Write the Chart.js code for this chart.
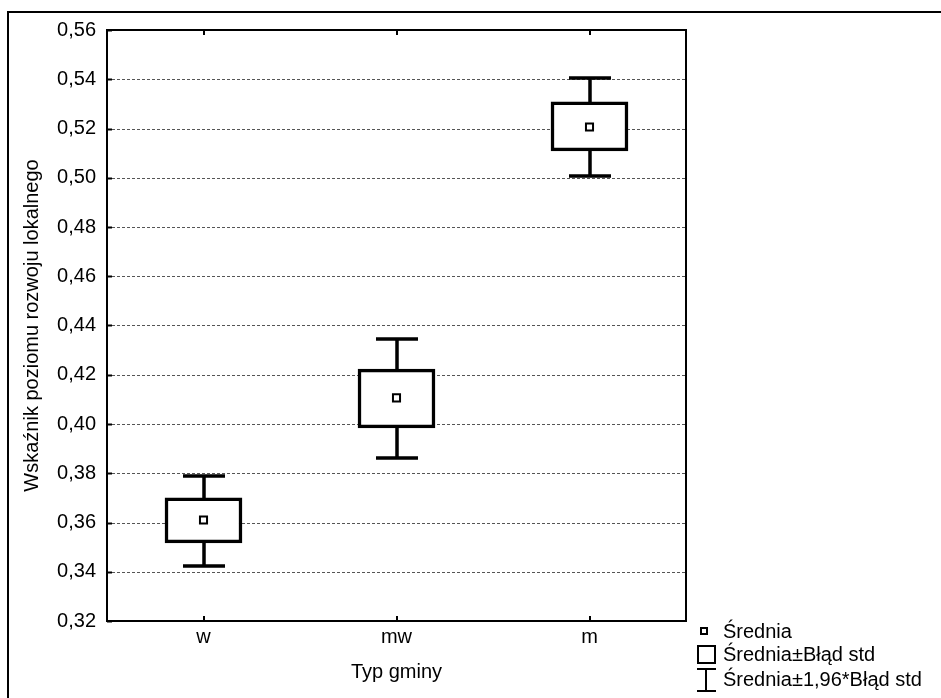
<!DOCTYPE html>
<html>
<head>
<meta charset="utf-8">
<script src="https://cdn.jsdelivr.net/npm/chart.js@4"></script>
<style>
  html, body { margin: 0; padding: 0; background: #fff; }
  #wrap { position: relative; width: 941px; height: 698px; font-family: "Liberation Sans", Arial, sans-serif; }
  .lg { position: absolute; left: 723px; font-size: 20px; color: #000; line-height: 24px; white-space: nowrap; }
  .sym { position: absolute; box-sizing: border-box; }
</style>
</head>
<body>
<div id="wrap">
  <canvas id="c" width="941" height="698"></canvas>
  <!-- legend -->
  <div class="sym" style="left:700px;top:627px;width:8px;height:8px;border:2px solid #000"></div>
  <div class="lg" style="top:619px">Średnia</div>
  <div class="sym" style="left:697px;top:645px;width:19px;height:19px;border:2px solid #000"></div>
  <div class="lg" style="top:642px">Średnia±Błąd std</div>
  <div class="sym" style="left:697px;top:668px;width:19px;height:2px;background:#000"></div>
  <div class="sym" style="left:705px;top:668px;width:2px;height:24px;background:#000"></div>
  <div class="sym" style="left:697px;top:690px;width:19px;height:2px;background:#000"></div>
  <div class="lg" style="top:667px">Średnia±1,96*Błąd std</div>
</div>
<script>
// categories and values
const categories = ['w', 'mw', 'm'];
const means  = [0.361, 0.4106, 0.5206];
const seLow  = [0.3517, 0.3984, 0.5109];
const seHigh = [0.3700, 0.4223, 0.5308];
const ciLow  = [0.3423, 0.3862, 0.5007];
const ciHigh = [0.3789, 0.4345, 0.5405];

const FONT = '"Liberation Sans", Arial, sans-serif';
const fmtTick = v => v.toFixed(2).replace('.', ',');

// frame, dashed grid and inward ticks
const framePlugin = {
  id: 'frame',
  beforeDatasetsDraw(chart) {
    const { ctx, chartArea: a, scales } = chart;
    ctx.save();
    ctx.strokeStyle = '#555'; ctx.lineWidth = 1; ctx.setLineDash([3, 2]);
    scales.y.ticks.forEach(t => {
      if (t.value <= scales.y.min + 1e-9 || t.value >= scales.y.max - 1e-9) return;
      const y = Math.round(scales.y.getPixelForValue(t.value)) + 0.5;
      ctx.beginPath(); ctx.moveTo(a.left, y); ctx.lineTo(a.right, y); ctx.stroke();
    });
    ctx.setLineDash([]);
    ctx.strokeStyle = '#000'; ctx.lineWidth = 2;
    scales.y.ticks.forEach(t => {
      const y = Math.round(scales.y.getPixelForValue(t.value)) + 0.5;
      ctx.beginPath(); ctx.moveTo(a.left, y); ctx.lineTo(a.left + 5, y); ctx.stroke();
    });
    categories.forEach((c, i) => {
      const x = Math.round(scales.x.getPixelForValue(i));
      ctx.beginPath(); ctx.moveTo(x, a.top); ctx.lineTo(x, a.top + 5); ctx.stroke();
      ctx.beginPath(); ctx.moveTo(x, a.bottom); ctx.lineTo(x, a.bottom - 5); ctx.stroke();
    });
    ctx.strokeRect(a.left, a.top, a.right - a.left, a.bottom - a.top);
    // outer picture border
    ctx.beginPath(); ctx.moveTo(8, 698); ctx.lineTo(8, 12); ctx.lineTo(941, 12); ctx.stroke();
    ctx.restore();
  },
  afterDatasetsDraw(chart) {
    // whiskers: mean ± 1.96*SE
    const { ctx, scales } = chart;
    ctx.save();
    ctx.strokeStyle = '#000'; ctx.lineWidth = 3.5;
    categories.forEach((c, i) => {
      const x = Math.round(scales.x.getPixelForValue(i));
      const yb = scales.y.getPixelForValue(seHigh[i]);
      const ya = scales.y.getPixelForValue(ciHigh[i]);
      const yc = scales.y.getPixelForValue(seLow[i]);
      const yd = scales.y.getPixelForValue(ciLow[i]);
      ctx.beginPath();
      ctx.moveTo(x, yb); ctx.lineTo(x, ya);
      ctx.moveTo(x - 21, ya); ctx.lineTo(x + 21, ya);
      ctx.moveTo(x, yc); ctx.lineTo(x, yd);
      ctx.moveTo(x - 21, yd); ctx.lineTo(x + 21, yd);
      ctx.stroke();
    });
    ctx.restore();
  },
};

new Chart(document.getElementById('c'), {
  type: 'bar',
  data: {
    labels: categories,
    datasets: [
      {
        type: 'line',
        label: 'Średnia',
        data: means,
        showLine: false,
        pointStyle: 'rect',
        pointRadius: 5,
        pointBorderWidth: 2,
        pointBackgroundColor: '#fff',
        pointBorderColor: '#000',
        order: 0,
      },
      {
        type: 'bar',
        label: 'Średnia±Błąd std',
        data: categories.map((c, i) => [seLow[i], seHigh[i]]),
        backgroundColor: '#fff',
        borderColor: '#000',
        borderWidth: 3.5,
        borderSkipped: false,
        barThickness: 77,
        order: 1,
      },
    ],
  },
  options: {
    responsive: false,
    devicePixelRatio: 1,
    animation: false,
    layout: { padding: { left: 0, top: 30, right: 255, bottom: 0 } },
    plugins: { legend: { display: false }, tooltip: { enabled: false } },
    scales: {
      x: {
        offset: true,
        grid: { display: false, drawTicks: false },
        border: { display: false },
        ticks: { color: '#000', font: { family: FONT, size: 20 }, padding: 4 },
        title: { display: true, text: 'Typ gminy', color: '#000', font: { family: FONT, size: 20 }, padding: { top: 0, bottom: 14 } },
        afterFit: s => { s.height = 77; },
      },
      y: {
        min: 0.32, max: 0.56,
        grid: { display: false, drawTicks: false },
        border: { display: false },
        ticks: { stepSize: 0.02, color: '#000', font: { family: FONT, size: 20 }, padding: 11, callback: v => fmtTick(v) },
        title: { display: true, text: 'Wskaźnik poziomu rozwoju lokalnego', color: '#000', font: { family: FONT, size: 20 }, padding: { top: 20, bottom: 0 } },
        afterFit: s => { s.width = 107; },
      },
    },
  },
  plugins: [framePlugin],
});
</script>
</body>
</html>
